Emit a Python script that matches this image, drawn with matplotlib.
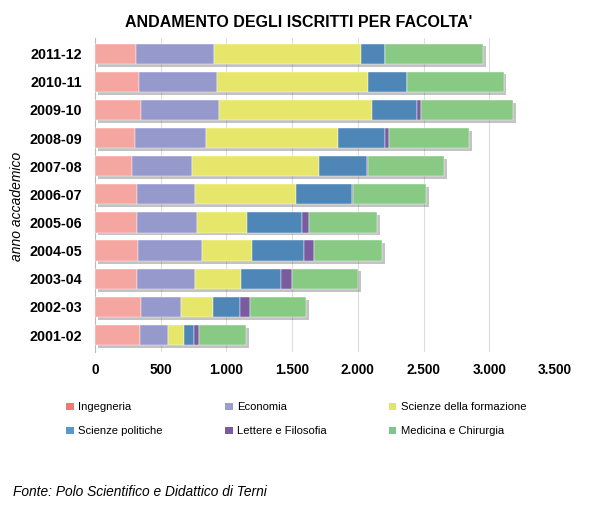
import numpy as np
import matplotlib
matplotlib.use("Agg")
import matplotlib.pyplot as plt
import matplotlib.patheffects as pe
from matplotlib.patches import Patch

plt.rcParams['font.family'] = ['Liberation Sans', 'DejaVu Sans']

# academic years, bottom to top
anni = ['2001-02', '2002-03', '2003-04', '2004-05', '2005-06', '2006-07',
        '2007-08', '2008-09', '2009-10', '2010-11', '2011-12']

# enrolled students per faculty (same order as anni)
ingegneria = [343, 348, 323, 326, 318, 318, 282, 303, 348, 338, 310]
economia = [211, 306, 440, 490, 460, 445, 458, 541, 593, 593, 598]
scienze_formazione = [125, 244, 346, 377, 379, 765, 964, 1005, 1165, 1149, 1114]
scienze_politiche = [76, 206, 308, 399, 417, 428, 369, 359, 341, 293, 183]
lettere_filosofia = [38, 79, 83, 74, 51, 10, 7, 28, 30, 0, 0]
medicina = [359, 422, 504, 516, 519, 552, 578, 610, 702, 735, 750]

facolta = ['Ingegneria', 'Economia', 'Scienze della formazione',
           'Scienze politiche', 'Lettere e Filosofia', 'Medicina e Chirurgia']
colori = ['#F5A6A0', '#9699CC', '#E6E66A', '#4F86B8', '#7B5BA0', '#88C984']
colori_legenda = ['#EC7A78', '#9B9CD2', '#E4E466', '#5B96D0', '#7B5BA0', '#7DC78A']
serie = [ingegneria, economia, scienze_formazione, scienze_politiche,
         lettere_filosofia, medicina]

fig = plt.figure(figsize=(5.93, 5.16), dpi=100)
ax = fig.add_axes([0.160, 0.318, 0.776, 0.608])

y = np.arange(len(anni))
left = np.zeros(len(anni))
shadow = [pe.SimplePatchShadow(offset=(2, -2), shadow_rgbFace='#555555', alpha=0.35), pe.Normal()]
for vals, col in zip(serie, colori):
    bars = ax.barh(y, vals, left=left, height=0.72, color=col,
                   edgecolor='white', linewidth=0.3, zorder=3)
    for b in bars:
        b.set_path_effects(shadow)
    left += np.array(vals)

ax.set_xlim(0, 3500)
ax.set_ylim(-0.6, len(anni) - 0.45)
ax.set_xticks(np.arange(0, 3501, 500))
ax.set_xticklabels(['0', '500', '1.000', '1.500', '2.000', '2.500', '3.000', '3.500'],
                   fontsize=9.8, fontweight='bold')
ax.set_yticks(y)
ax.set_yticklabels(anni, fontsize=10.3, fontweight='bold')
ax.tick_params(length=0, pad=8)
ax.tick_params(axis='y', pad=9)
ax.grid(axis='x', color='#dddddd', linewidth=0.8, zorder=0)
for s in ['top', 'right', 'bottom']:
    ax.spines[s].set_visible(False)
ax.spines['left'].set_color('#bbbbbb')
ax.set_ylabel('anno accademico', fontsize=10, fontstyle='italic')
ax.yaxis.set_label_coords(-0.153, 0.465)

fig.text(0.504, 0.956, "ANDAMENTO DEGLI ISCRITTI PER FACOLTA'", ha='center', va='center',
         fontsize=11.5, fontweight='bold')

handles = [Patch(facecolor=c, edgecolor='none') for c in colori_legenda]
order = [0, 3, 1, 4, 2, 5]
fig.legend([handles[i] for i in order], [facolta[i] for i in order], ncol=3,
           loc='upper left', bbox_to_anchor=(0.095, 0.24), frameon=False,
           fontsize=8.1, handlelength=0.65, handleheight=0.65, handletextpad=0.4,
           columnspacing=5.55, labelspacing=1.25)

fig.text(0.022, 0.046, 'Fonte: Polo Scientifico e Didattico di Terni', fontsize=9.9,
         fontstyle='italic', ha='left', va='center')

fig.savefig('out.png', dpi=100)
